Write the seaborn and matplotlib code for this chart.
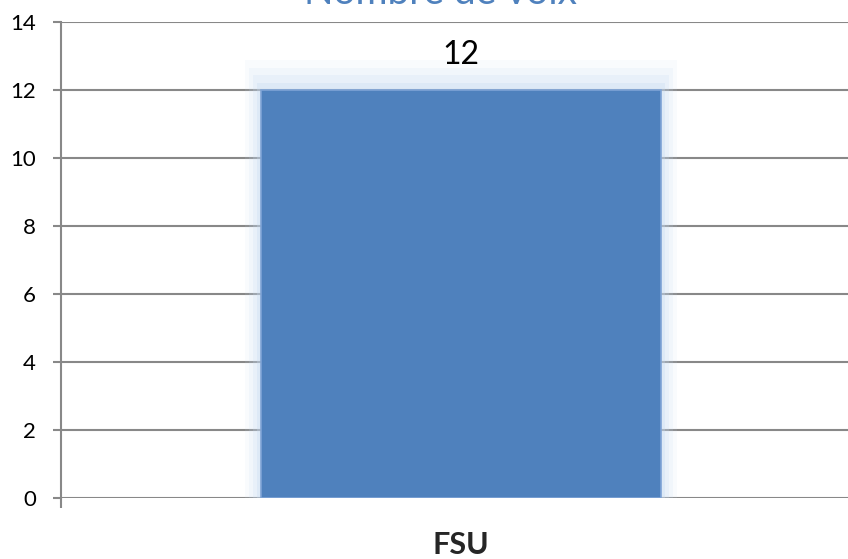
import matplotlib
matplotlib.use("Agg")
import matplotlib.pyplot as plt
import seaborn as sns
import pandas as pd

categories = ["FSU"]
votes = [12]
title = "Nombre de voix"

df = pd.DataFrame({"syndicat": categories, "voix": votes})

sns.set_style("white")
plt.rcParams["font.family"] = ["Lato", "DejaVu Sans"]

bar_color = "#4f81bd"
grid_color = "#888888"

fig = plt.figure(figsize=(8.48, 5.59), dpi=100)
# plot area runs a bit past the right edge of the picture, like the source
ax = fig.add_axes([61 / 848, 1 - 498 / 559, 800 / 848, (498 - 22) / 559])

# soft glow around the bar
for grow, alpha in [(0.040, 0.10), (0.030, 0.14), (0.020, 0.20), (0.010, 0.30)]:
    ax.bar(range(len(votes)), [v + grow * 22 for v in votes], width=0.5 + grow,
           color="#c6d9f1", alpha=alpha, linewidth=0, zorder=2)

sns.barplot(data=df, x="syndicat", y="voix", color=bar_color, width=0.5,
            edgecolor="#7ea3d6", linewidth=1.2, saturation=1, ax=ax, zorder=3)

for i, v in enumerate(votes):
    ax.text(i, v + 0.6, str(v), ha="center", va="bottom", fontsize=23,
            color="black", zorder=4)

ax.set_xlim(-0.5, 0.5)
ax.set_ylim(0, 14)
ax.set_yticks(range(0, 15, 2))
ax.yaxis.grid(True, color=grid_color, linewidth=1.5)
ax.set_axisbelow(True)

for side in ["top", "right", "bottom"]:
    ax.spines[side].set_visible(False)
ax.spines["left"].set_color(grid_color)
ax.spines["left"].set_linewidth(1.5)

ax.tick_params(axis="y", which="major", left=True, length=6, width=1.5,
               color=grid_color, pad=12, labelsize=16, labelcolor="black")
ax.tick_params(axis="x", which="major", bottom=False, pad=20, labelsize=22)
ax.set_xticks([-0.5, 0.5], minor=True)
ax.tick_params(axis="x", which="minor", bottom=True, length=7.5, width=1.5,
               color=grid_color, direction="out")
for lbl in ax.get_xticklabels():
    lbl.set_fontweight("bold")

ax.set_xlabel("")
ax.set_ylabel("")

fig.text(441 / 848, 1 - 4 / 559, title, ha="center", va="baseline",
         fontsize=28, color=bar_color)

fig.savefig("out.png", dpi=100)
